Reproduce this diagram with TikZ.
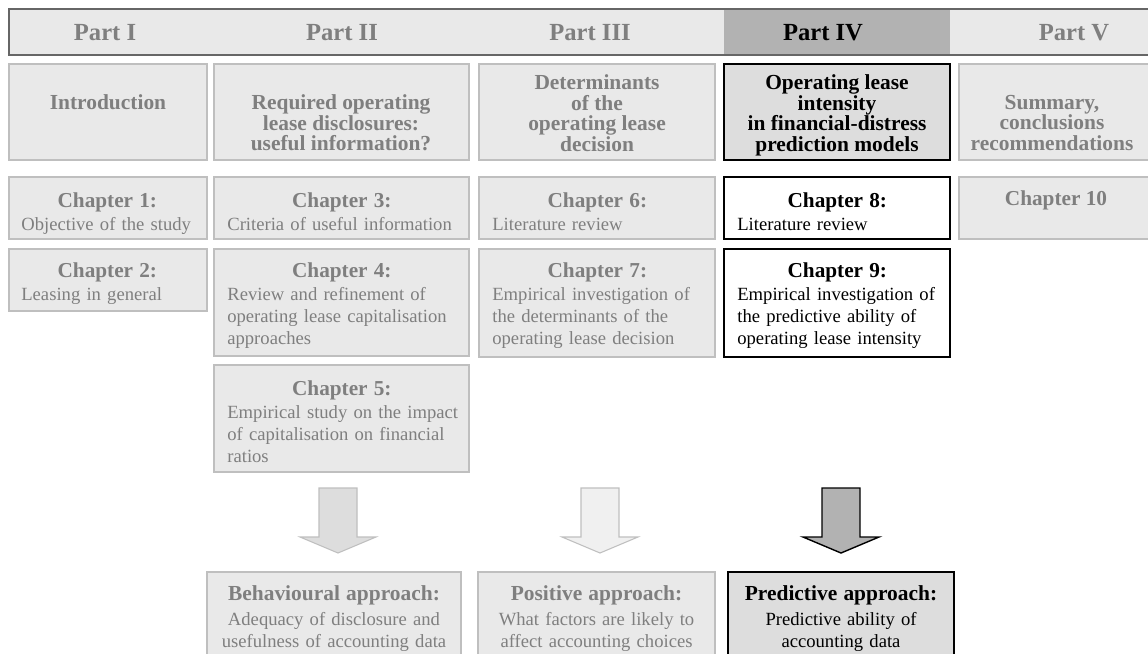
\documentclass[tikz,border=0pt]{standalone}
\usepackage{fontspec}
\setmainfont{Liberation Serif}
\usepackage{xcolor}
\usepackage{tikz}
\usetikzlibrary{calc}
\definecolor{paleFill}{HTML}{E9E9E9}
\definecolor{paleLine}{HTML}{BFBFBF}
\definecolor{paleText}{HTML}{7F7F7F}
\definecolor{midFill}{HTML}{DDDDDD}
\definecolor{darkFill}{HTML}{B2B2B2}
\definecolor{frameGray}{HTML}{666666}
\newcommand{\chhead}[1]{{\centering\rightskip=0.3cm plus 1fil\relax\fontsize{12.1}{13}\selectfont\bfseries #1\par}\vspace{0.6pt}\noindent}
\newcommand{\aphead}[1]{{\fontsize{12.2}{13}\selectfont\bfseries #1\par}\vspace{1.7pt}}
\hyphenpenalty=10000

\begin{document}
\begin{tikzpicture}[x=0.02cm,y=-0.02cm,line join=miter,
  pale/.style={fill=paleFill,draw=paleLine,line width=0.6pt},
  hot/.style={fill=white,draw=black,line width=0.8pt},
  warm/.style={fill=midFill,draw=black,line width=0.8pt},
  parthead/.style={font=\fontsize{14}{16}\selectfont\bfseries,inner sep=0pt},
  parttitle/.style={font=\fontsize{12.2}{11.7}\selectfont\bfseries,align=center,anchor=north,inner sep=0pt},
  chap/.style={font=\fontsize{10.6}{12.5}\selectfont,align=left,anchor=north west,inner sep=0pt},
  approach/.style={font=\fontsize{10.6}{12.5}\selectfont,align=center,anchor=north,inner sep=0pt}]
  \clip (0,0) rectangle (1148,653);
  \fill[paleFill] (9,9) rectangle (1160,55);
  \fill[darkFill] (724,9) rectangle (950,55);
  \draw[frameGray,line width=0.8pt] (1160,9) -- (9,9) -- (9,55) -- (1160,55);
  \draw[pale] (9,64) rectangle (207,160);
  \draw[pale] (214,64) rectangle (469,160);
  \draw[pale] (479,64) rectangle (715,160);
  \draw[warm] (724,64) rectangle (950,160);
  \draw[pale] (959,64) rectangle (1160,160);
  \draw[pale] (9,177) rectangle (207,239);
  \draw[pale] (214,177) rectangle (469,239);
  \draw[pale] (479,177) rectangle (715,239);
  \draw[hot] (724,177) rectangle (950,239);
  \draw[pale] (959,177) rectangle (1160,239);
  \draw[pale] (9,249) rectangle (207,311);
  \draw[pale] (214,249) rectangle (469,356);
  \draw[pale] (479,249) rectangle (715,357);
  \draw[hot] (724,249) rectangle (950,357);
  \draw[pale] (214,365) rectangle (469,472);
  \draw[fill=midFill,draw=paleLine,line width=0.6pt] (319,488) -- ++(0,49) -- ++(-19,0) -- ++(38,16) -- ++(38,-16) -- ++(-19,0) -- ++(0,-49) -- cycle;
  \draw[fill=paleFill!70!white,draw=paleLine,line width=0.6pt] (581,488) -- ++(0,49) -- ++(-19,0) -- ++(38,16) -- ++(38,-16) -- ++(-19,0) -- ++(0,-49) -- cycle;
  \draw[fill=darkFill,draw=black,line width=0.8pt] (822,488) -- ++(0,49) -- ++(-19,0) -- ++(38,16) -- ++(38,-16) -- ++(-19,0) -- ++(0,-49) -- cycle;
  \draw[pale] (207,572) rectangle (461,670);
  \draw[pale] (478,572) rectangle (715,670);
  \draw[warm] (728,572) rectangle (954,670);
  \node[parthead,paleText] (partI) at (105,33) {Part I};
  \node[parthead,paleText] (partII) at (342,33) {Part II};
  \node[parthead,paleText] (partIII) at (590,33) {Part III};
  \node[parthead] (partIV) at (823,33) {Part IV};
  \node[parthead,paleText] (partV) at (1074,33) {Part V};
  \node[parttitle,paleText] (intro) at (108,94.5) {Introduction};
  \node[parttitle,paleText] (disclosure) at (341,94.5) {Required operating\\lease disclosures:\\useful information?};
  \node[parttitle,paleText] (determinants) at (597,74.5) {Determinants\\of the\\operating lease\\decision};
  \node[parttitle] (intensity) at (837,74.5) {Operating lease\\intensity\\in financial-distress\\prediction models};
  \node[parttitle,paleText] (summary) at (1052,94.5) {Summary,\\conclusions\\recommendations};
  \node[chap,paleText,text width=3.74cm] (ch1) at (21,192.5) {\chhead{Chapter 1:}Objective of the study};
  \node[chap,paleText,text width=4.88cm] (ch3) at (227,192.5) {\chhead{Chapter 3:}Criteria of useful information};
  \node[chap,paleText,text width=4.50cm] (ch6) at (492,192.5) {\chhead{Chapter 6:}Literature review};
  \node[chap,text width=4.30cm] (ch8) at (737,192.5) {\chhead{Chapter 8:}Literature review};
  \node[parttitle,paleText,font=\fontsize{12.1}{13}\selectfont\bfseries] (ch10) at (1056,190.5) {Chapter 10};
  \node[chap,paleText,text width=3.74cm] (ch2) at (21,262.5) {\chhead{Chapter 2:}Leasing in general};
  \node[chap,paleText,text width=4.88cm] (ch4) at (227,262.5) {\chhead{Chapter 4:}Review and refinement of\\operating lease capitalisation\\approaches};
  \node[chap,paleText,text width=4.50cm] (ch7) at (492,262.5) {\chhead{Chapter 7:}Empirical investigation of\\the determinants of the\\operating lease decision};
  \node[chap,text width=4.30cm] (ch9) at (737,262.5) {\chhead{Chapter 9:}Empirical investigation of\\the predictive ability of\\operating lease intensity};
  \node[chap,paleText,text width=4.88cm] (ch5) at (227,380.5) {\chhead{Chapter 5:}Empirical study on the impact\\of capitalisation on financial\\ratios};
  \node[approach,paleText,text width=4.8cm] (behavioural) at (334,585.5) {\aphead{Behavioural approach:}Adequacy of disclosure and\\usefulness of accounting data};
  \node[approach,paleText,text width=4.6cm] (positive) at (596.5,585.5) {\aphead{Positive approach:}What factors are likely to\\affect accounting choices};
  \node[approach,text width=4.4cm] (predictive) at (841,585.5) {\aphead{Predictive approach:}Predictive ability of\\accounting data};
\end{tikzpicture}
\end{document}
